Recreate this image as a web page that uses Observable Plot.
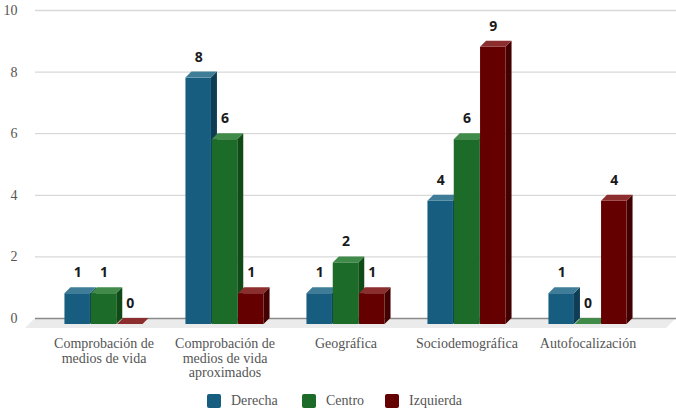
<!DOCTYPE html>
<html>
<head>
<meta charset="utf-8">
<script src="https://cdn.jsdelivr.net/npm/d3@7"></script>
<script src="https://cdn.jsdelivr.net/npm/@observablehq/plot@0.6"></script>
<style>
  body { margin: 0; background: #fff; }
  #chart { width: 676px; }
  #chart svg { font-family: "Liberation Serif", "Times New Roman", serif !important; font-size: 14px !important; color: #555 !important; }
  .legend { position: relative; height: 28px; width: 676px; font-family: "Liberation Serif", "Times New Roman", serif; font-size: 14px; color: #555; }
  .legend .item { position: absolute; top: 2px; height: 28px; display: flex; align-items: center; }
  .legend .sw { width: 14px; height: 14px; border-radius: 2px; margin-right: 10px; }
</style>
</head>
<body>
<div id="chart"></div>
<script>
// ---- data ----
const categories = [
  "Comprobación de medios de vida",
  "Comprobación de medios de vida aproximados",
  "Geográfica",
  "Sociodemográfica",
  "Autofocalización"
];
const categoryLabels = [
  "Comprobación de\nmedios de vida",
  "Comprobación de\nmedios de vida\naproximados",
  "Geográfica",
  "Sociodemográfica",
  "Autofocalización"
];
const seriesNames = ["Derecha", "Centro", "Izquierda"];
const derecha = [1, 8, 1, 4, 1];
const centro = [1, 6, 2, 6, 0];
const izquierda = [0, 1, 1, 9, 4];
const yTicks = [0, 2, 4, 6, 8, 10];

// ---- styles ----
const frontColors = ["#175d80", "#1c6b29", "#650000"];
const topColors = ["#3f7c98", "#408a4a", "#8c2e2e"];
const sideColors = ["#0f3d54", "#0f4a17", "#420000"];
const DEPTH = 6, BAR_W = 25.5, BAR_STEP = 26.3, FLOOR = 10;

const seriesValues = [derecha, centro, izquierda];
const rows = [];
categories.forEach((c, ci) => {
  seriesValues.forEach((vals, s) => rows.push({category: c, series: seriesNames[s], s, value: vals[ci]}));
});

function bars3d(index, scales, values, dimensions) {
  const g = d3.create("svg:g");
  const bw = scales.x.bandwidth ? scales.x.bandwidth() : 0;
  const yb = scales.y(0) + DEPTH;
  for (const i of index) {
    const r = rows[i];
    const cx = scales.x(r.category) + bw / 2 + (r.s - 1) * BAR_STEP;
    const l = cx - BAR_W / 2, rt = cx + BAR_W / 2;
    const yf = scales.y(r.value) + DEPTH;
    g.append("polygon")
      .attr("points", [[rt, yf], [rt + DEPTH, yf - DEPTH], [rt + DEPTH, yb - DEPTH], [rt, yb]].join(" "))
      .attr("fill", sideColors[r.s]);
    if (yb - yf > 0) {
      g.append("rect").attr("x", l).attr("y", yf).attr("width", BAR_W).attr("height", yb - yf)
        .attr("fill", frontColors[r.s]);
    }
    g.append("polygon")
      .attr("points", [[l, yf], [l + DEPTH, yf - DEPTH], [rt + DEPTH, yf - DEPTH], [rt, yf]].join(" "))
      .attr("fill", topColors[r.s]);
  }
  return g.node();
}

function floor3d(index, scales, values, dimensions) {
  const y0 = scales.y(0);
  const x1 = dimensions.marginLeft, x2 = dimensions.width - dimensions.marginRight;
  const g = d3.create("svg:g");
  g.append("polygon")
    .attr("points", [[x1, y0], [x2, y0], [x2 - FLOOR, y0 + FLOOR], [x1 - FLOOR, y0 + FLOOR]].join(" "))
    .attr("fill", "#ebebeb");
  return g.node();
}

const labelMarks = seriesValues.map((vals, s) =>
  Plot.text(rows.filter(r => r.s === s), {
    x: "category", y: "value", text: d => String(d.value),
    dx: (s - 1) * BAR_STEP, dy: -15,
    fontFamily: "'Open Sans', sans-serif", fontWeight: "bold", fontSize: 14, fill: "#1a1a1a"
  })
);

const chart = Plot.plot({
  width: 676,
  height: 385,
  marginTop: 10,
  marginBottom: 67,
  marginLeft: 35,
  marginRight: 0,
  style: {fontFamily: "'Liberation Serif', serif", fontSize: "14px", color: "#555", background: "#fff"},
  x: {type: "band", domain: categories, paddingInner: 0, paddingOuter: 0.13, align: 0.233, axis: null},
  y: {domain: [0, 10], axis: null},
  marks: [
    Plot.ruleY([0], {render: floor3d}),
    Plot.ruleY(yTicks.filter(t => t !== 0), {stroke: "#d9d9d9", strokeWidth: 1.3}),
    Plot.ruleY([0], {stroke: "#8a8a8a", strokeWidth: 1.5}),
    Plot.axisY({ticks: yTicks, tickSize: 0, tickPadding: 18, label: null, fontSize: 14}),
    Plot.axisX({tickSize: 0, tickPadding: 19, label: null, fontSize: 14, lineHeight: 1.05,
      tickFormat: d => categoryLabels[categories.indexOf(d)]}),
    Plot.dot(rows, {x: "category", y: "value", render: bars3d}),
    ...labelMarks
  ]
});
document.getElementById("chart").appendChild(chart);

// legend
const legend = document.createElement("div");
legend.className = "legend";
const legendX = [207, 302, 385];
seriesNames.forEach((name, s) => {
  const item = document.createElement("div");
  item.className = "item";
  item.style.left = legendX[s] + "px";
  item.innerHTML = `<span class="sw" style="background:${frontColors[s]}"></span><span>${name}</span>`;
  legend.appendChild(item);
});
document.getElementById("chart").appendChild(legend);
</script>
</body>
</html>
